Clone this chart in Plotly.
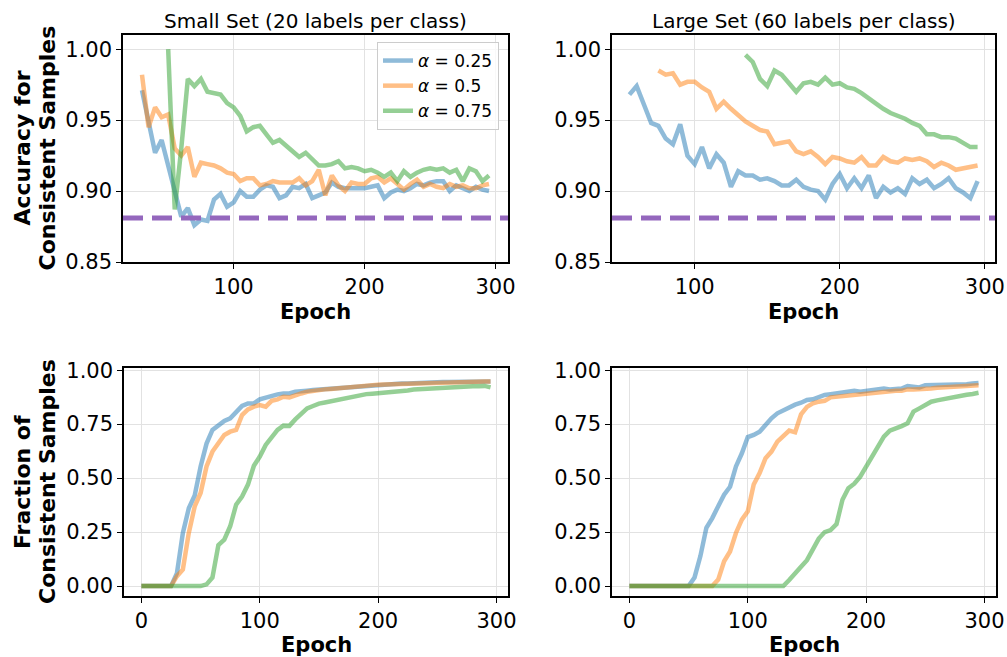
import plotly.graph_objects as go

# ---------------- data ----------------
ep_small_acc = list(range(30, 300, 5))
ep_small_acc_g = list(range(50, 300, 5))
small_acc_025 = [0.971, 0.948, 0.927, 0.936, 0.917, 0.898, 0.882, 0.888, 0.876, 0.880,
                 0.879, 0.894, 0.898, 0.889, 0.892, 0.900, 0.896, 0.896, 0.901, 0.904,
                 0.903, 0.895, 0.897, 0.903, 0.902, 0.905, 0.895, 0.897, 0.899, 0.906,
                 0.903, 0.902, 0.902, 0.902, 0.902, 0.903, 0.904, 0.895, 0.899, 0.901,
                 0.900, 0.902, 0.905, 0.904, 0.906, 0.907, 0.907, 0.900, 0.904, 0.902,
                 0.900, 0.903, 0.901, 0.900]
small_acc_05 = [0.982, 0.945, 0.959, 0.952, 0.954, 0.930, 0.925, 0.931, 0.910, 0.920,
                0.919, 0.918, 0.916, 0.913, 0.912, 0.907, 0.909, 0.909, 0.904, 0.905,
                0.907, 0.906, 0.906, 0.906, 0.909, 0.904, 0.907, 0.915, 0.897, 0.911,
                0.904, 0.900, 0.906, 0.905, 0.905, 0.909, 0.910, 0.906, 0.909, 0.905,
                0.901, 0.905, 0.908, 0.903, 0.905, 0.903, 0.902, 0.905, 0.903, 0.904,
                0.902, 0.902, 0.904, 0.905]
small_acc_075 = [1.000, 0.887, 0.930, 0.979, 0.974, 0.979, 0.970, 0.969, 0.968, 0.962,
                 0.959, 0.953, 0.942, 0.945, 0.946, 0.940, 0.934, 0.936, 0.932, 0.928,
                 0.924, 0.927, 0.923, 0.918, 0.918, 0.919, 0.921, 0.916, 0.917, 0.916,
                 0.914, 0.915, 0.913, 0.910, 0.913, 0.907, 0.914, 0.910, 0.913, 0.915,
                 0.916, 0.915, 0.916, 0.913, 0.915, 0.907, 0.916, 0.914, 0.907, 0.911]

ep_large_acc_b = list(range(55, 300, 5))
ep_large_acc_o = list(range(75, 300, 5))
ep_large_acc_g = list(range(135, 300, 5))
large_acc_025 = [0.968, 0.974, 0.961, 0.948, 0.946, 0.937, 0.933, 0.947, 0.925, 0.919,
                 0.931, 0.916, 0.926, 0.920, 0.903, 0.914, 0.911, 0.911, 0.908, 0.909,
                 0.907, 0.904, 0.904, 0.908, 0.903, 0.901, 0.900, 0.894, 0.905, 0.912,
                 0.902, 0.909, 0.902, 0.911, 0.895, 0.903, 0.899, 0.902, 0.898, 0.909,
                 0.905, 0.908, 0.902, 0.905, 0.909, 0.902, 0.899, 0.895, 0.907]
large_acc_05 = [0.985, 0.982, 0.983, 0.975, 0.977, 0.977, 0.973, 0.970, 0.958, 0.963,
                0.958, 0.953, 0.949, 0.946, 0.943, 0.942, 0.933, 0.934, 0.935, 0.928,
                0.926, 0.928, 0.924, 0.919, 0.924, 0.923, 0.921, 0.920, 0.924, 0.918,
                0.918, 0.924, 0.921, 0.920, 0.923, 0.922, 0.923, 0.921, 0.917, 0.920,
                0.918, 0.915, 0.916, 0.917, 0.918]
large_acc_075 = [0.996, 0.991, 0.979, 0.974, 0.985, 0.982, 0.976, 0.970, 0.976, 0.977,
                 0.975, 0.980, 0.975, 0.976, 0.973, 0.972, 0.969, 0.965, 0.961, 0.958,
                 0.955, 0.953, 0.951, 0.948, 0.946, 0.940, 0.940, 0.938, 0.938, 0.937,
                 0.934, 0.931, 0.931]

baseline_acc = 0.881

ep_frac = list(range(0, 300, 5))
small_frac_025 = [0, 0, 0, 0, 0, 0, 0.06, 0.246, 0.36, 0.42,
                  0.554, 0.66, 0.723, 0.746, 0.765, 0.777, 0.808, 0.834, 0.846, 0.846,
                  0.865, 0.874, 0.882, 0.888, 0.892, 0.892, 0.900, 0.900, 0.905, 0.908,
                  0.910, 0.912, 0.915, 0.918, 0.922, 0.924, 0.926, 0.928, 0.930, 0.932,
                  0.934, 0.934, 0.936, 0.937, 0.938, 0.938, 0.940, 0.941, 0.942, 0.942,
                  0.944, 0.945, 0.945, 0.946, 0.946, 0.947, 0.947, 0.948, 0.948, 0.948]
small_frac_05 = [0, 0, 0, 0, 0, 0, 0.046, 0.077, 0.246, 0.369,
                 0.431, 0.554, 0.623, 0.658, 0.700, 0.715, 0.723, 0.792, 0.818, 0.831,
                 0.838, 0.831, 0.858, 0.865, 0.877, 0.874, 0.885, 0.892, 0.900, 0.905,
                 0.908, 0.911, 0.913, 0.916, 0.919, 0.922, 0.925, 0.927, 0.929, 0.931,
                 0.933, 0.934, 0.935, 0.936, 0.937, 0.937, 0.939, 0.940, 0.941, 0.941,
                 0.942, 0.943, 0.943, 0.944, 0.944, 0.945, 0.945, 0.946, 0.947, 0.947]
small_frac_075 = [0, 0, 0, 0, 0, 0, 0, 0, 0, 0,
                  0, 0.008, 0.04, 0.19, 0.215, 0.277, 0.377, 0.415, 0.470, 0.557,
                  0.600, 0.654, 0.692, 0.723, 0.743, 0.742, 0.772, 0.800, 0.823, 0.834,
                  0.845, 0.850, 0.856, 0.862, 0.870, 0.874, 0.878, 0.884, 0.889, 0.891,
                  0.893, 0.895, 0.896, 0.900, 0.903, 0.906, 0.910, 0.912, 0.914, 0.915,
                  0.917, 0.918, 0.919, 0.920, 0.922, 0.923, 0.925, 0.925, 0.927, 0.920]

large_frac_025 = [0, 0, 0, 0, 0, 0, 0, 0, 0, 0,
                  0, 0.04, 0.14, 0.27, 0.315, 0.37, 0.423, 0.46, 0.554, 0.615,
                  0.690, 0.700, 0.715, 0.746, 0.777, 0.800, 0.815, 0.830, 0.840, 0.849,
                  0.862, 0.865, 0.877, 0.885, 0.889, 0.892, 0.895, 0.900, 0.905, 0.900,
                  0.905, 0.908, 0.910, 0.915, 0.911, 0.915, 0.915, 0.926, 0.923, 0.920,
                  0.930, 0.930, 0.930, 0.930, 0.934, 0.930, 0.935, 0.935, 0.938, 0.940]
large_frac_05 = [0, 0, 0, 0, 0, 0, 0, 0, 0, 0,
                 0, 0, 0, 0, 0, 0.03, 0.115, 0.16, 0.246, 0.308,
                 0.346, 0.470, 0.523, 0.592, 0.623, 0.669, 0.692, 0.720, 0.712, 0.795,
                 0.830, 0.846, 0.854, 0.858, 0.874, 0.877, 0.880, 0.885, 0.888, 0.892,
                 0.895, 0.897, 0.900, 0.900, 0.903, 0.905, 0.905, 0.911, 0.911, 0.911,
                 0.915, 0.915, 0.918, 0.920, 0.918, 0.923, 0.923, 0.926, 0.926, 0.930]
large_frac_075 = [0, 0, 0, 0, 0, 0, 0, 0, 0, 0,
                  0, 0, 0, 0, 0, 0, 0, 0, 0, 0,
                  0, 0, 0, 0, 0, 0, 0, 0.028, 0.063, 0.09,
                  0.12, 0.17, 0.22, 0.25, 0.259, 0.287, 0.40, 0.453, 0.474, 0.507,
                  0.553, 0.600, 0.638, 0.692, 0.720, 0.729, 0.741, 0.754, 0.808, 0.823,
                  0.838, 0.854, 0.860, 0.866, 0.872, 0.877, 0.882, 0.886, 0.890, 0.895]

series_names = ["<i>α</i> = 0.25", "<i>α</i> = 0.5", "<i>α</i> = 0.75"]
colors = ["rgba(31,119,180,0.5)", "rgba(255,127,14,0.5)", "rgba(44,160,44,0.5)"]
titles = ["Small Set (20 labels per class)", "Large Set (60 labels per class)"]

# ---------------- figure ----------------
W, H = 1007, 657
FONT = "DejaVu Sans"
LW = 4.5

fig = go.Figure()

panels = [
    ("x", "y", [(ep_small_acc, small_acc_025), (ep_small_acc, small_acc_05), (ep_small_acc_g, small_acc_075)], True),
    ("x2", "y2", [(ep_large_acc_b, large_acc_025), (ep_large_acc_o, large_acc_05), (ep_large_acc_g, large_acc_075)], False),
    ("x3", "y3", [(ep_frac, small_frac_025), (ep_frac, small_frac_05), (ep_frac, small_frac_075)], False),
    ("x4", "y4", [(ep_frac, large_frac_025), (ep_frac, large_frac_05), (ep_frac, large_frac_075)], False),
]
for xa, ya, series, show in panels:
    for i, (xs, ys) in enumerate(series):
        fig.add_trace(go.Scatter(x=xs, y=ys, mode="lines", xaxis=xa, yaxis=ya,
                                 name=series_names[i], showlegend=show,
                                 line=dict(color=colors[i], width=LW)))

def px_dom_x(a, b):
    return [a / W, b / W]

def px_dom_y(top, bottom):
    return [1 - bottom / H, 1 - top / H]

axis_common = dict(showline=True, linecolor="black", linewidth=1.5, mirror=True,
                   ticks="outside", ticklen=5, tickwidth=1.3, tickcolor="black",
                   showgrid=True, gridcolor="#e2e2e2", gridwidth=1, zeroline=False,
                   automargin=False,
                   tickfont=dict(family=FONT, size=21, color="black"))

fig.update_layout(
    width=W, height=H, margin=dict(l=0, r=0, t=0, b=0, autoexpand=False),
    plot_bgcolor="white", paper_bgcolor="white",
    font=dict(family=FONT, color="black"),
    xaxis=dict(domain=px_dom_x(123, 508), anchor="y", range=[15.5, 309.5],
               tickvals=[100, 200, 300], **axis_common),
    yaxis=dict(domain=px_dom_y(35, 262), anchor="x", range=[0.85, 1.01],
               tickvals=[0.85, 0.90, 0.95, 1.00], tickformat=".2f", **axis_common),
    xaxis2=dict(domain=px_dom_x(612, 995), anchor="y2", range=[43, 307],
                tickvals=[100, 200, 300], **axis_common),
    yaxis2=dict(domain=px_dom_y(35, 262), anchor="x2", range=[0.85, 1.01],
                tickvals=[0.85, 0.90, 0.95, 1.00], tickformat=".2f", **axis_common),
    xaxis3=dict(domain=px_dom_x(124, 508), anchor="y3", range=[-14.75, 309.75],
                tickvals=[0, 100, 200, 300], **axis_common),
    yaxis3=dict(domain=px_dom_y(368, 596), anchor="x3", range=[-0.046, 1.01],
                tickvals=[0, 0.25, 0.5, 0.75, 1.0], tickformat=".2f", **axis_common),
    xaxis4=dict(domain=px_dom_x(612, 996), anchor="y4", range=[-14.75, 309.75],
                tickvals=[0, 100, 200, 300], **axis_common),
    yaxis4=dict(domain=px_dom_y(368, 596), anchor="x4", range=[-0.046, 1.01],
                tickvals=[0, 0.25, 0.5, 0.75, 1.0], tickformat=".2f", **axis_common),
    legend=dict(x=499 / W, y=1 - 42 / H, xanchor="right", yanchor="top",
                bgcolor="rgba(255,255,255,0.8)", bordercolor="#cccccc", borderwidth=1,
                font=dict(family=FONT, size=17, color="black")),
)

# baseline dashed lines (axhline)
for xa, ya in [("x", "y"), ("x2", "y2")]:
    fig.add_shape(type="line", xref=f"{xa} domain", yref=ya, x0=0, x1=1,
                  y0=baseline_acc, y1=baseline_acc, layer="above",
                  line=dict(color="#9467bd", width=5, dash="20px,9px"))

def label(text, cx, cy, size, angle=0):
    fig.add_annotation(text=text, x=cx / W, y=1 - cy / H, xref="paper", yref="paper",
                       xanchor="center", yanchor="middle", showarrow=False,
                       textangle=angle, font=dict(family=FONT, size=size, color="black"))

# titles
label(titles[0], 315.5, 21, 20)
label(titles[1], 803.5, 21, 20)

# axis labels
for cx, cy in [(315.5, 312), (803.5, 312), (316, 645), (804, 645)]:
    label("<b>Epoch</b>", cx, cy, 21)
label("<b>Accuracy for</b>", 22, 148.5, 22, -90)
label("<b>Consistent Samples</b>", 47, 148.5, 22, -90)
label("<b>Fraction of</b>", 22, 482, 22, -90)
label("<b>Consistent Samples</b>", 47, 482, 22, -90)

fig.write_html("out.html", config={"displayModeBar": False},
               post_script="document.body.style.margin='0';document.body.style.overflow='hidden';")
